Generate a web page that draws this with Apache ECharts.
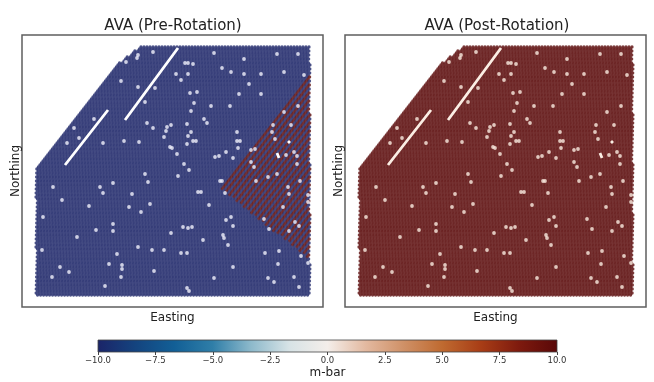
<!DOCTYPE html>
<html><head><meta charset="utf-8">
<style>html,body{margin:0;padding:0;background:#fff}#c{width:654px;height:382px}</style>
<script src="https://cdn.jsdelivr.net/npm/echarts@6/dist/echarts.min.js"></script></head>
<body><div id="c"></div>
<script>
// Survey values; easting/row are survey units
const titles = ['AVA (Pre-Rotation)', 'AVA (Post-Rotation)'];
const colorbarTicks = [-10, -7.5, -5, -2.5, 0, 2.5, 5, 7.5, 10];
const colorStops = ['#1b2468','#14447f','#125f96','#2f7ea8','#8db9cb','#d7e3e6','#f4eeea','#e3b9a0','#cf9066','#bf6a30','#a83d16','#7e1a0e','#590808'];
const surveyOutline = [[36,297],[36,168],[120,62],[140,47],[310,47],[310,297]];
const rotatedWedge = [[221,189],[312,70],[312,262]];
const wedgeTraceValues = [10, -10];
const blueValue = -10, redValue = 10;
const deadTraces = [[[108,110],[65,165]], [[178,48],[125,120]], [[288,143],[290,141]], [[277,153],[279,158]]];
const deadSensors = [[153,52],[137,58],[138,55],[126,62],[121,81],[138,87],[155,88],[145,102],[176,74],[94,119],[74,128],[147,123],[153,128],[167,127],[171,125],[166,131],[164,137],[79,138],[67,143],[103,143],[124,141],[139,142],[170,147],[172,148],[177,154],[145,174],[178,176],
[214,53],[277,54],[298,54],[244,59],[185,63],[188,63],[193,64],[222,68],[231,72],[244,74],[261,74],[284,72],[304,75],[188,74],[181,80],[249,84],[190,93],[197,92],[239,94],[261,94],[194,103],[211,106],[230,106],[191,111],[284,112],[298,106],[204,119],[207,123],[187,124],[273,125],[291,125],[191,132],[272,132],[237,132],[188,136],[193,141],[196,141],[275,139],[187,144],[237,141],[240,141],[238,148],[226,152],[219,156],[215,157],[233,158],[251,150],[255,149],[286,155],[294,152],[297,156],[297,164],[251,162],[254,167],[184,164],[189,170],[268,177],[277,174],
[220,181],[222,181],[256,181],[288,187],[300,181],[289,194],[308,195],[225,193],[198,192],[201,192],[209,205],[283,207],[308,202],[226,220],[231,217],[264,219],[233,226],[295,222],[299,226],[269,229],[289,231],[183,227],[188,228],[192,227],[223,235],[224,238],[203,240],[228,245],[265,253],[279,251],[181,253],[187,253],[301,256],[308,263],[278,264],[233,267],[294,277],[214,278],[268,278],[274,282],[299,287],[187,288],[189,291],
[148,182],[113,183],[100,187],[53,187],[103,193],[132,194],[62,200],[89,206],[150,204],[129,207],[141,212],[43,217],[113,224],[96,230],[113,231],[171,233],[77,237],[138,247],[152,250],[164,250],[42,250],[117,254],[109,264],[122,265],[122,269],[60,267],[69,272],[154,271],[52,277],[121,277],[105,286]];

const toNorth = r => 382 - r;
function inside(p, poly) {
  let c = false;
  for (let i = 0, j = poly.length - 1; i < poly.length; j = i++) {
    const [xi, yi] = poly[i], [xj, yj] = poly[j];
    if ((yi > p[1]) !== (yj > p[1]) && p[0] < (xj - xi) * (p[1] - yi) / (yj - yi) + xi) c = !c;
  }
  return c;
}
const pre = [], post = [];
const dx = 3, dy = 2, shear = 1.56;
for (let j = 0; j < 126; j++) {
  const r = 47 + j * dy;
  for (let i = -80; i < 110; i++) {
    const e = 36 + i * dx + (125 - j) * shear;
    const p = [e, r];
    if (!inside(p, surveyOutline)) continue;
    const inW = inside(p, rotatedWedge);
    const v = inW ? wedgeTraceValues[((i % 2) + 2) % 2] : blueValue;
    pre.push([e, toNorth(r), v]);
    post.push([e, toNorth(r), redValue]);
  }
}
const deadPts = deadSensors.map(d => [d[0], toNorth(d[1])]);
const traceLine = [];
deadTraces.forEach(t => { traceLine.push([t[0][0], toNorth(t[0][1])], [t[1][0], toNorth(t[1][1])], ['-', '-']); });

const font = 'DejaVu Sans';
const panelGrids = [{left:22, top:35, width:301, height:272, show:true, borderColor:'#5f5f5f', borderWidth:1.5, backgroundColor:'#fff'},
                    {left:345, top:35, width:301, height:272, show:true, borderColor:'#5f5f5f', borderWidth:1.5, backgroundColor:'#fff'}];
function eastAxis(g){return {gridIndex:g,type:'value',min:22,max:323,name:'Easting',nameLocation:'middle',nameGap:5,nameTextStyle:{fontFamily:font,fontSize:12,color:'#222'},axisLine:{show:false},axisTick:{show:false},axisLabel:{show:false},splitLine:{show:false}};}
function northAxis(g){return {gridIndex:g,type:'value',min:75,max:347,name:'Northing',nameLocation:'middle',nameGap:0,nameRotate:90,nameTextStyle:{fontFamily:font,fontSize:12,color:'#222'},axisLine:{show:false},axisTick:{show:false},axisLabel:{show:false},splitLine:{show:false}};}
function lattice(g,data){return {type:'scatter',xAxisIndex:g,yAxisIndex:g,data,symbol:'circle',symbolSize:3.3,silent:true,progressive:0,animation:false};}
function holes(g,color){return {type:'scatter',xAxisIndex:g,yAxisIndex:g,data:deadPts,symbol:'circle',symbolSize:3.8,itemStyle:{color},silent:true,animation:false,z:4};}
function traces(g,color){return {type:'line',xAxisIndex:g,yAxisIndex:g,data:traceLine,showSymbol:false,symbol:'none',lineStyle:{color,width:2.8},itemStyle:{color},silent:true,animation:false,z:4};}

const chart = echarts.init(document.getElementById('c'), null, {renderer:'canvas'});
chart.setOption({
  animation:false, backgroundColor:'#fff',
  title:[
    {text:titles[0],left:168,top:14,textAlign:'center',textStyle:{fontFamily:font,fontSize:15,fontWeight:'normal',color:'#222'}},
    {text:titles[1],left:492,top:14,textAlign:'center',textStyle:{fontFamily:font,fontSize:15,fontWeight:'normal',color:'#222'}}
  ],
  visualMap:{show:false,type:'continuous',min:-10,max:10,seriesIndex:[0,3],dimension:2,inRange:{color:colorStops}},
  grid:[panelGrids[0],panelGrids[1],{left:98,top:340,width:459,height:12,show:false}],
  xAxis:[eastAxis(0),eastAxis(1),{gridIndex:2,type:'value',min:-10,max:10,interval:2.5,name:'m-bar',nameLocation:'middle',nameGap:15,nameTextStyle:{fontFamily:font,fontSize:12,color:'#222'},
    axisLine:{show:false},axisTick:{show:true,length:3,lineStyle:{color:'#444'}},
    axisLabel:{margin:4,fontFamily:font,fontSize:8.5,color:'#333',formatter:v=>(v<0?'\u2212':'')+Math.abs(v).toFixed(1)},splitLine:{show:false}}],
  yAxis:[northAxis(0),northAxis(1),{gridIndex:2,type:'value',min:0,max:1,show:false}],
  series:[
    lattice(0,pre),holes(0,'#f2f2fd'),traces(0,'#fff'),
    lattice(1,post),holes(1,'#fbeee2'),traces(1,'#fbeee4'),
    {type:'custom',xAxisIndex:2,yAxisIndex:2,data:[[colorbarTicks[0],colorbarTicks[colorbarTicks.length-1]]],silent:true,animation:false,
     renderItem:(params,api)=>{
       const a=api.coord([api.value(0),0]), b=api.coord([api.value(1),1]);
       return {type:'rect',shape:{x:a[0],y:b[1],width:b[0]-a[0],height:a[1]-b[1]},
         style:{fill:new echarts.graphic.LinearGradient(0,0,1,0,colorStops.map((c,i)=>({offset:i/(colorStops.length-1),color:c}))),stroke:'#444',lineWidth:0.8}};
     },encode:{x:[0,1]}}
  ]
});
</script></body></html>
